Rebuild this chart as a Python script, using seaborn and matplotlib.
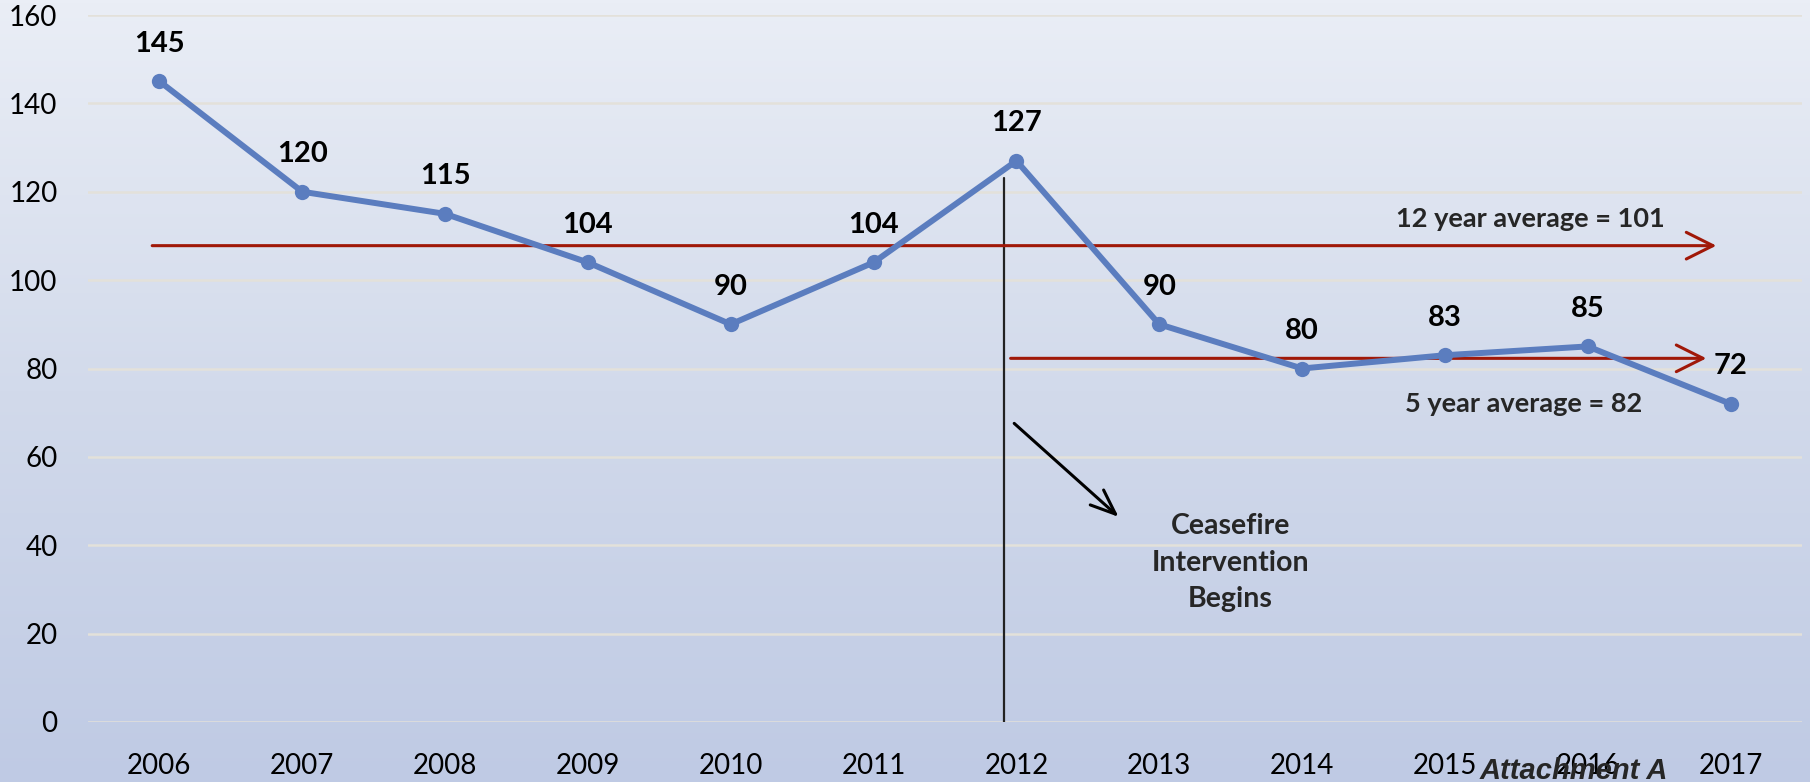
import numpy as np
import pandas as pd
import matplotlib
matplotlib.use("Agg")
import matplotlib.pyplot as plt
import seaborn as sns
from matplotlib.colors import LinearSegmentedColormap

years = ["2006", "2007", "2008", "2009", "2010", "2011", "2012",
         "2013", "2014", "2015", "2016", "2017"]
values = [145, 120, 115, 104, 90, 104, 127, 90, 80, 83, 85, 72]
yticks = [0, 20, 40, 60, 80, 100, 120, 140, 160]

sns.set_theme(style="white")
plt.rcParams['font.family'] = ['Lato', 'DejaVu Sans']

fig = plt.figure(figsize=(18.1, 7.82), dpi=100)

# gradient background
bg = fig.add_axes([0, 0, 1, 1], zorder=-10)
cmap = LinearSegmentedColormap.from_list("bg", ["#EAEEF6", "#D2DAEB", "#BFCAE4"])
grad = np.linspace(0, 1, 256).reshape(-1, 1)
bg.imshow(grad, aspect="auto", cmap=cmap, extent=[0, 1, 0, 1], origin="upper")
bg.set_axis_off()

ax = fig.add_axes([88/1810, 1 - 722/782, (1802-88)/1810, (722-15)/782])
ax.patch.set_alpha(0)

df = pd.DataFrame({"year": years, "value": values})
xs = np.arange(len(years))
for y in yticks:
    ax.axhline(y, color="#E3E1DA", lw=1.8, zorder=0)

sns.lineplot(x=xs, y=df["value"], ax=ax, color="#5B7DBF", lw=4.3,
             marker="o", markersize=11, markeredgewidth=0, zorder=5)

for x, v in zip(xs, values):
    ax.annotate(str(v), (x, v), xytext=(0, 27), textcoords="offset points",
                ha="center", va="center", fontsize=21, fontweight="bold", color="black")

# average arrows
red = "#A01808"
head = "->,head_length=1.6,head_width=0.8"
ax.annotate("", xy=(10.92, 107.8), xytext=(-0.07, 107.8),
            arrowprops=dict(arrowstyle=head, color=red, lw=2.2), zorder=4)
ax.annotate("", xy=(10.85, 82.3), xytext=(5.94, 82.3),
            arrowprops=dict(arrowstyle=head, color=red, lw=2.2), zorder=4)
ax.text(9.6, 113.8, "12 year average = 101", ha="center", va="center",
        fontsize=19.5, fontweight="bold")
ax.text(9.55, 72, "5 year average = 82", ha="center", va="center",
        fontsize=19.5, fontweight="bold")

# vertical intervention line
ax.plot([5.91, 5.91], [123, 0], color="#222222", lw=1.6, zorder=3)
ax.annotate("", xy=(6.73, 46.0), xytext=(5.97, 68.0),
            arrowprops=dict(arrowstyle="->,head_length=1.5,head_width=0.6", color="black", lw=2.2))
ax.text(7.5, 36.0, "Ceasefire\nIntervention\nBegins", ha="center", va="center",
        fontsize=20.5, fontweight="bold", linespacing=1.5)

ax.set_xlim(-0.5, 11.5)
ax.set_ylim(0, 160)
ax.set_xticks(xs)
ax.set_xticklabels(years)
ax.set_yticks(yticks)
ax.tick_params(axis="x", length=0, pad=22.5, labelsize=20, colors="black")
ax.tick_params(axis="y", length=0, pad=22, labelsize=20, colors="black")
ax.set_xlabel("")
ax.set_ylabel("")
for s in ax.spines.values():
    s.set_visible(False)

fig.text(1480/1810, 0.004, "Attachment A", ha="left", va="baseline",
         fontsize=21, fontweight="bold", fontstyle="italic",
         family=["Liberation Sans", "DejaVu Sans"], zorder=20)

fig.savefig("out.png", dpi=100)
